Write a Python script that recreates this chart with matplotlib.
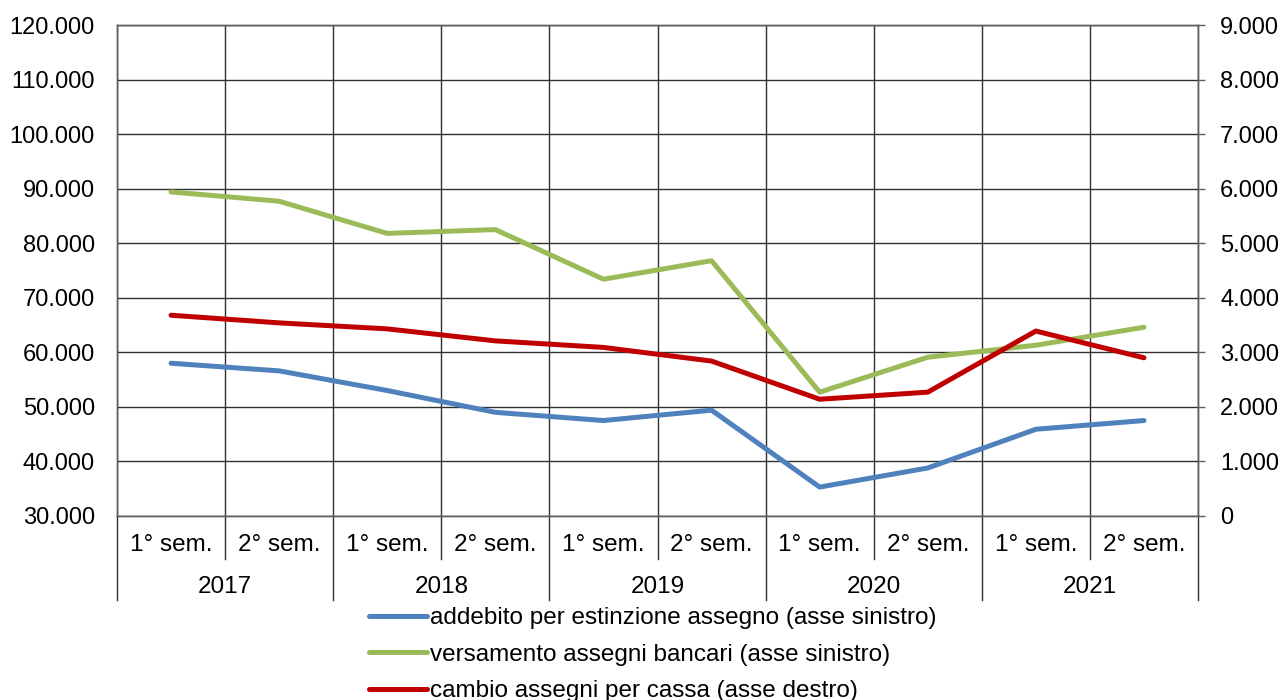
import numpy as np
import matplotlib.pyplot as plt
from matplotlib.ticker import FuncFormatter, MultipleLocator

plt.rcParams['font.family'] = ['Liberation Sans', 'DejaVu Sans']

# semestri e anni
semestri = ['1° sem.', '2° sem.'] * 5
anni = ['2017', '2018', '2019', '2020', '2021']

# serie (numero di operazioni)
addebito = [58000, 56600, 53000, 49000, 47500, 49400, 35300, 38800, 45900, 47500]
versamento = [89400, 87700, 81800, 82500, 73400, 76800, 52700, 59100, 61300, 64600]
cambio = [3680, 3540, 3430, 3210, 3090, 2840, 2140, 2270, 3390, 2900]

etichette = ['addebito per estinzione assegno (asse sinistro)',
             'versamento assegni bancari (asse sinistro)',
             'cambio assegni per cassa (asse destro)']

def punti(v, pos):
    return '{:,.0f}'.format(v).replace(',', '.')

fig = plt.figure(figsize=(12.85, 7), dpi=100)
ax = fig.add_axes([117/1285, 184/700, 1081/1285, 491/700])
ax2 = ax.twinx()

x = np.arange(len(semestri)) + 0.5
l1, = ax.plot(x, addebito, color='#4F81BD', lw=3.6, solid_capstyle='round', zorder=3)
l2, = ax.plot(x, versamento, color='#9BBB59', lw=3.6, solid_capstyle='round', zorder=3)
l3, = ax2.plot(x, cambio, color='#C00000', lw=3.6, solid_capstyle='round', zorder=3)

ax.set_xlim(0, len(semestri))
ax.set_ylim(30000, 120000)
ax2.set_ylim(0, 9000)
ax.yaxis.set_major_locator(MultipleLocator(10000))
ax2.yaxis.set_major_locator(MultipleLocator(1000))
ax.yaxis.set_major_formatter(FuncFormatter(punti))
ax2.yaxis.set_major_formatter(FuncFormatter(punti))

# griglia
for v in range(30000, 120001, 10000):
    ax.axhline(v, color='#303030', lw=1, zorder=1)
for k in range(len(semestri) + 1):
    ax.axvline(k, color='#303030', lw=1, zorder=1)

ax.set_xticks([])
for a in (ax, ax2):
    for s in a.spines.values():
        s.set_color('#606060')
        s.set_linewidth(1)
ax.tick_params(axis='y', labelsize=17, length=0, pad=16)
ax2.tick_params(axis='y', labelsize=17, length=5, width=1, color='#606060', pad=11)

# asse categorie a due livelli
tr = ax.get_xaxis_transform()
for k in range(len(semestri) + 1):
    fondo = -0.171 if k % 2 == 0 else -0.088
    ax.plot([k, k], [0, fondo], transform=tr, color='#303030', lw=1, clip_on=False)
for i, s in enumerate(semestri):
    ax.text(i + 0.5, -0.059, s, transform=tr, ha='center', va='center', fontsize=17.5)
for j, anno in enumerate(anni):
    ax.text(2 * j + 1, -0.145, anno, transform=tr, ha='center', va='center', fontsize=17.5)

fig.legend([l1, l2, l3], etichette, loc='upper left', bbox_to_anchor=(369/1285, 1 - 607/700),
           frameon=False, fontsize=17.5, handlelength=2.4, handletextpad=0.12,
           labelspacing=0.6, borderaxespad=0, borderpad=0)

fig.savefig('out.png', dpi=100)
